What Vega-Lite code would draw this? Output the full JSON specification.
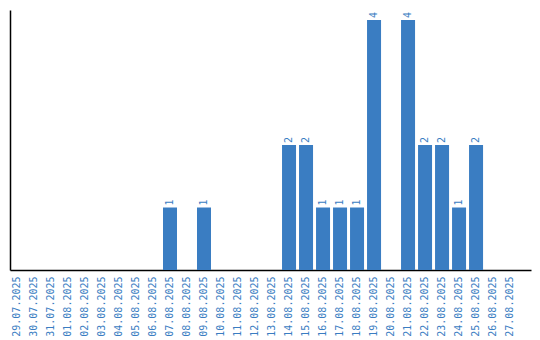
{
  "$schema": "https://vega.github.io/schema/vega-lite/v6.json",
  "autosize": "none",
  "padding": {"left": 10, "top": 10, "right": 9, "bottom": 70},
  "width": 521,
  "height": 260,
  "background": "white",
  "config": {"view": {"stroke": null}, "font": "DejaVu Sans Mono"},
  "data": {"values": [
    {"date": "07.08.2025", "count": 1},
    {"date": "09.08.2025", "count": 1},
    {"date": "14.08.2025", "count": 2},
    {"date": "15.08.2025", "count": 2},
    {"date": "16.08.2025", "count": 1},
    {"date": "17.08.2025", "count": 1},
    {"date": "18.08.2025", "count": 1},
    {"date": "19.08.2025", "count": 4},
    {"date": "21.08.2025", "count": 4},
    {"date": "22.08.2025", "count": 2},
    {"date": "23.08.2025", "count": 2},
    {"date": "24.08.2025", "count": 1},
    {"date": "25.08.2025", "count": 2}
  ]},
  "encoding": {
    "x": {
      "field": "date", "type": "ordinal", "sort": null,
      "scale": {
        "domain": ["29.07.2025","30.07.2025","31.07.2025","01.08.2025","02.08.2025","03.08.2025","04.08.2025","05.08.2025","06.08.2025","07.08.2025","08.08.2025","09.08.2025","10.08.2025","11.08.2025","12.08.2025","13.08.2025","14.08.2025","15.08.2025","16.08.2025","17.08.2025","18.08.2025","19.08.2025","20.08.2025","21.08.2025","22.08.2025","23.08.2025","24.08.2025","25.08.2025","26.08.2025","27.08.2025"],
        "paddingInner": 0.176, "paddingOuter": 0.41, "align": 0
      },
      "axis": {
        "title": null, "ticks": false, "labelAngle": -90, "labelAlign": "right", "labelBaseline": "middle",
        "labelFont": "DejaVu Sans Mono", "labelFontSize": 10, "labelColor": "#3a7dc2", "labelPadding": 6,
        "domainColor": "#000000", "domainWidth": 1.5, "labelOverlap": false
      }
    },
    "y": {
      "field": "count", "type": "quantitative",
      "scale": {"domain": [0, 4.16], "nice": false, "zero": true},
      "axis": {"title": null, "labels": false, "ticks": false, "grid": false, "domainColor": "#000000", "domainWidth": 1.5}
    }
  },
  "layer": [
    {"mark": {"type": "bar", "color": "#3a7dc2"}},
    {
      "mark": {"type": "text", "angle": -90, "align": "left", "baseline": "middle", "dx": 2, "font": "DejaVu Sans Mono", "fontSize": 10, "color": "#3a7dc2"},
      "encoding": {"text": {"field": "count", "type": "quantitative"}}
    }
  ]
}
